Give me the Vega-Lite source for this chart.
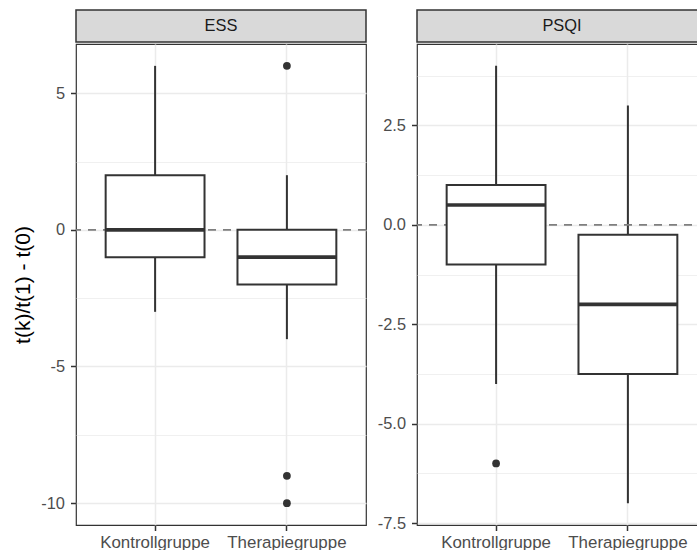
{
  "$schema": "https://vega.github.io/schema/vega-lite/v6.json",
  "background": "white",
  "padding": {"left": 12, "top": 9, "right": -10, "bottom": 0},
  "config": {
    "font": "Liberation Sans",
    "locale": {"number": {"decimal": ".", "thousands": ",", "grouping": [3], "currency": ["", ""], "minus": "-"}},
    "axis": {
      "labelFont": "Liberation Sans",
      "labelFontSize": 16.4,
      "labelColor": "#4D4D4D",
      "tickColor": "#333333",
      "tickSize": 5.5,
      "tickWidth": 1.5,
      "domain": false,
      "gridColor": "#EBEBEB",
      "gridWidth": 1.5,
      "labelPadding": 6,
      "titleFont": "Liberation Sans",
      "titleFontSize": 21,
      "titleFontWeight": "normal",
      "titleColor": "#000000",
      "titlePadding": 7
    },
    "axisX": {"labelPadding": 3.5, "labelFontSize": 16.9}
  },
  "datasets": {
    "boxes": [
      {"panel": "ESS", "group": "Kontrollgruppe", "lower": -3, "q1": -1, "median": 0, "q3": 2, "upper": 6},
      {"panel": "ESS", "group": "Therapiegruppe", "lower": -4, "q1": -2, "median": -1, "q3": 0, "upper": 2},
      {"panel": "PSQI", "group": "Kontrollgruppe", "lower": -4, "q1": -1, "median": 0.5, "q3": 1, "upper": 4},
      {"panel": "PSQI", "group": "Therapiegruppe", "lower": -7, "q1": -3.75, "median": -2, "q3": -0.25, "upper": 3}
    ],
    "outliers": [
      {"panel": "ESS", "group": "Therapiegruppe", "value": 6},
      {"panel": "ESS", "group": "Therapiegruppe", "value": -9},
      {"panel": "ESS", "group": "Therapiegruppe", "value": -10},
      {"panel": "PSQI", "group": "Kontrollgruppe", "value": -6}
    ],
    "strips": [
      {"panel": "ESS"},
      {"panel": "PSQI"}
    ]
  },
  "spacing": 8,
  "hconcat": [
    {
      "spacing": 0,
      "vconcat": [
        {
          "width": 290,
          "height": 32,
          "view": {"fill": "#D9D9D9", "stroke": "#333333", "strokeWidth": 1.5},
          "data": {"name": "strips"},
          "transform": [{"filter": "datum.panel == 'ESS'"}],
          "mark": {"type": "text", "fontSize": 16.4, "color": "#1A1A1A", "baseline": "middle", "align": "center"},
          "encoding": {"text": {"field": "panel", "type": "nominal"}}
        },
        {
          "width": 290,
          "height": 481,
          "view": {"fill": "white", "stroke": "#333333", "strokeWidth": 1.2},
          "layer": [
            {
              "data": {"name": "boxes"},
              "transform": [{"filter": "datum.panel == 'ESS'"}],
              "mark": {"type": "rule", "color": "#333333", "strokeWidth": 2},
              "encoding": {
                "x": {"field": "group", "type": "nominal", "sort": ["Kontrollgruppe", "Therapiegruppe"],
                      "scale": {"paddingInner": 0.25, "paddingOuter": 0.225},
                      "axis": {"title": null, "grid": true, "labelAngle": 0}},
                "y": {"field": "lower", "type": "quantitative",
                      "scale": {"domain": [-10.8, 6.8], "nice": false, "zero": false},
                      "axis": {"title": "t(k)/t(1) - t(0)",
                               "values": [-10, -7.5, -5, -2.5, 0, 2.5, 5],
                               "labelExpr": "datum.value % 5 == 0 ? format(datum.value, 'd') : ''",
                               "gridWidth": {"condition": {"test": "datum.value % 5 == 0", "value": 1.5}, "value": 0.75},
                               "tickOpacity": {"condition": {"test": "datum.value % 5 == 0", "value": 1}, "value": 0}}},
                "y2": {"field": "upper"}
              }
            },
            {
              "data": {"values": [{}]},
              "mark": {"type": "rule", "color": "#7F7F7F", "strokeWidth": 1.8, "strokeDash": [8, 7]},
              "encoding": {"y": {"datum": 0, "type": "quantitative"}}
            },
            {
              "data": {"name": "boxes"},
              "transform": [{"filter": "datum.panel == 'ESS'"}],
              "mark": {"type": "bar", "fill": "white", "stroke": "#333333", "strokeWidth": 2},
              "encoding": {
                "x": {"field": "group", "type": "nominal", "sort": ["Kontrollgruppe", "Therapiegruppe"]},
                "y": {"field": "q1", "type": "quantitative"},
                "y2": {"field": "q3"}
              }
            },
            {
              "data": {"name": "boxes"},
              "transform": [{"filter": "datum.panel == 'ESS'"}],
              "mark": {"type": "tick", "orient": "horizontal", "color": "#333333", "thickness": 3.7, "opacity": 1},
              "encoding": {
                "x": {"field": "group", "type": "nominal", "sort": ["Kontrollgruppe", "Therapiegruppe"]},
                "y": {"field": "median", "type": "quantitative"}
              }
            },
            {
              "data": {"name": "outliers"},
              "transform": [{"filter": "datum.panel == 'ESS'"}],
              "mark": {"type": "circle", "color": "#333333", "size": 60, "opacity": 1},
              "encoding": {
                "x": {"field": "group", "type": "nominal", "sort": ["Kontrollgruppe", "Therapiegruppe"]},
                "y": {"field": "value", "type": "quantitative"}
              }
            }
          ]
        }
      ]
    },
    {
      "spacing": 0,
      "vconcat": [
        {
          "width": 290,
          "height": 32,
          "view": {"fill": "#D9D9D9", "stroke": "#333333", "strokeWidth": 1.5},
          "data": {"name": "strips"},
          "transform": [{"filter": "datum.panel == 'PSQI'"}],
          "mark": {"type": "text", "fontSize": 16.4, "color": "#1A1A1A", "baseline": "middle", "align": "center"},
          "encoding": {"text": {"field": "panel", "type": "nominal"}}
        },
        {
          "width": 290,
          "height": 481,
          "view": {"fill": "white", "stroke": "#333333", "strokeWidth": 1.2},
          "layer": [
            {
              "data": {"name": "boxes"},
              "transform": [{"filter": "datum.panel == 'PSQI'"}],
              "mark": {"type": "rule", "color": "#333333", "strokeWidth": 2},
              "encoding": {
                "x": {"field": "group", "type": "nominal", "sort": ["Kontrollgruppe", "Therapiegruppe"],
                      "scale": {"paddingInner": 0.25, "paddingOuter": 0.225},
                      "axis": {"title": null, "grid": true, "labelAngle": 0}},
                "y": {"field": "lower", "type": "quantitative",
                      "scale": {"domain": [-7.55, 4.55], "nice": false, "zero": false},
                      "axis": {"title": null,
                               "values": [-7.5, -6.25, -5, -3.75, -2.5, -1.25, 0, 1.25, 2.5, 3.75],
                               "labelExpr": "datum.value % 2.5 == 0 ? format(datum.value, '.1f') : ''",
                               "gridWidth": {"condition": {"test": "datum.value % 2.5 == 0", "value": 1.5}, "value": 0.75},
                               "tickOpacity": {"condition": {"test": "datum.value % 2.5 == 0", "value": 1}, "value": 0}}},
                "y2": {"field": "upper"}
              }
            },
            {
              "data": {"values": [{}]},
              "mark": {"type": "rule", "color": "#7F7F7F", "strokeWidth": 1.8, "strokeDash": [8, 7]},
              "encoding": {"y": {"datum": 0, "type": "quantitative"}}
            },
            {
              "data": {"name": "boxes"},
              "transform": [{"filter": "datum.panel == 'PSQI'"}],
              "mark": {"type": "bar", "fill": "white", "stroke": "#333333", "strokeWidth": 2},
              "encoding": {
                "x": {"field": "group", "type": "nominal", "sort": ["Kontrollgruppe", "Therapiegruppe"]},
                "y": {"field": "q1", "type": "quantitative"},
                "y2": {"field": "q3"}
              }
            },
            {
              "data": {"name": "boxes"},
              "transform": [{"filter": "datum.panel == 'PSQI'"}],
              "mark": {"type": "tick", "orient": "horizontal", "color": "#333333", "thickness": 3.7, "opacity": 1},
              "encoding": {
                "x": {"field": "group", "type": "nominal", "sort": ["Kontrollgruppe", "Therapiegruppe"]},
                "y": {"field": "median", "type": "quantitative"}
              }
            },
            {
              "data": {"name": "outliers"},
              "transform": [{"filter": "datum.panel == 'PSQI'"}],
              "mark": {"type": "circle", "color": "#333333", "size": 60, "opacity": 1},
              "encoding": {
                "x": {"field": "group", "type": "nominal", "sort": ["Kontrollgruppe", "Therapiegruppe"]},
                "y": {"field": "value", "type": "quantitative"}
              }
            }
          ]
        }
      ]
    }
  ]
}
